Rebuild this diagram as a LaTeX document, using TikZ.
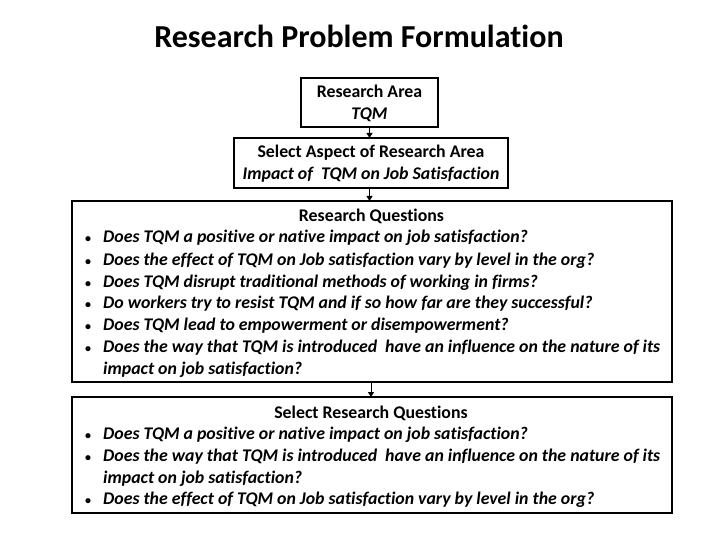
\documentclass[tikz,border=0pt]{standalone}
\usepackage{fontspec}
\setmainfont{Carlito}[Ligatures=NoCommon]
\usetikzlibrary{arrows.meta}
\begin{document}
\begin{tikzpicture}[x=1pt,y=-1pt,
  box/.style={draw=black,line width=1.1pt,inner sep=0pt,outer sep=0pt,rectangle},
  arr/.style={line width=1pt,-{Triangle[width=6pt,length=5pt]}},
  txt/.style={inner sep=0pt,anchor=base,font=\fontsize{17.8}{20}\selectfont\bfseries},
  itxt/.style={inner sep=0pt,anchor=base west,font=\fontsize{17.8}{20}\selectfont\bfseries\itshape},
  bul/.style={inner sep=0pt,anchor=base,font=\fontsize{12}{14}\selectfont\bfseries}
]
\useasboundingbox (0,0) rectangle (720,540);
\node[inner sep=0pt,anchor=base,font=\fontsize{32}{36}\selectfont\bfseries] (title) at (359,48) {Research Problem Formulation};

\node[box,minimum width=137pt,minimum height=49pt] (b1) at (369.5,102.5) {};
\node[txt] (b1a) at (369.5,98) {Research Area};
\node[txt,font=\fontsize{17.8}{20}\selectfont\bfseries\itshape] (b1b) at (369.5,120) {TQM};

\node[box,minimum width=274pt,minimum height=50pt] (b2) at (371,163) {};
\node[txt] (b2a) at (371,158) {Select Aspect of Research Area};
\node[txt,font=\fontsize{17.8}{20}\selectfont\bfseries\itshape] (b2b) at (371,180) {Impact of\ \ TQM on Job Satisfaction};

\node[box,minimum width=600pt,minimum height=181pt] (b3) at (372,291.5) {};
\node[txt] (b3h) at (371.5,222) {Research Questions};
\foreach \y/\t [count=\i] in {
  243/{Does TQM a positive or native impact on job satisfaction?},
  265/{Does the effect of TQM on Job satisfaction vary by level in the org?},
  287/{Does TQM disrupt traditional methods of working in firms?},
  308/{Do workers try to resist TQM and if so how far are they successful?},
  330/{Does TQM lead to empowerment or disempowerment?},
  352/{Does the way that TQM is introduced\ \ have an influence on the nature of its}}{
  \node[bul] (b3d\i) at (88,\y) {•};
  \node[itxt] (b3t\i) at (103,\y) {\t};
}
\node[itxt] (b3t7) at (103,374) {impact on job satisfaction?};

\node[box,minimum width=600pt,minimum height=116pt] (b4) at (372,455) {};
\node[txt] (b4h) at (371,418) {Select Research Questions};
\foreach \y/\t [count=\i] in {
  439/{Does TQM a positive or native impact on job satisfaction?},
  461/{Does the way that TQM is introduced\ \ have an influence on the nature of its},
  504/{Does the effect of TQM on Job satisfaction vary by level in the org?}}{
  \node[bul] (b4d\i) at (88,\y) {•};
  \node[itxt] (b4t\i) at (103,\y) {\t};
}
\node[itxt] (b4t4) at (103,483) {impact on job satisfaction?};

\draw[arr] (b1.south) -- (b1.south |- b2.north);
\draw[arr] (b1.south |- b2.south) -- (b1.south |- b3.north);
\draw[arr] ([xshift=-1pt]b3.south) -- ([xshift=-1pt]b4.north);
\end{tikzpicture}
\end{document}
